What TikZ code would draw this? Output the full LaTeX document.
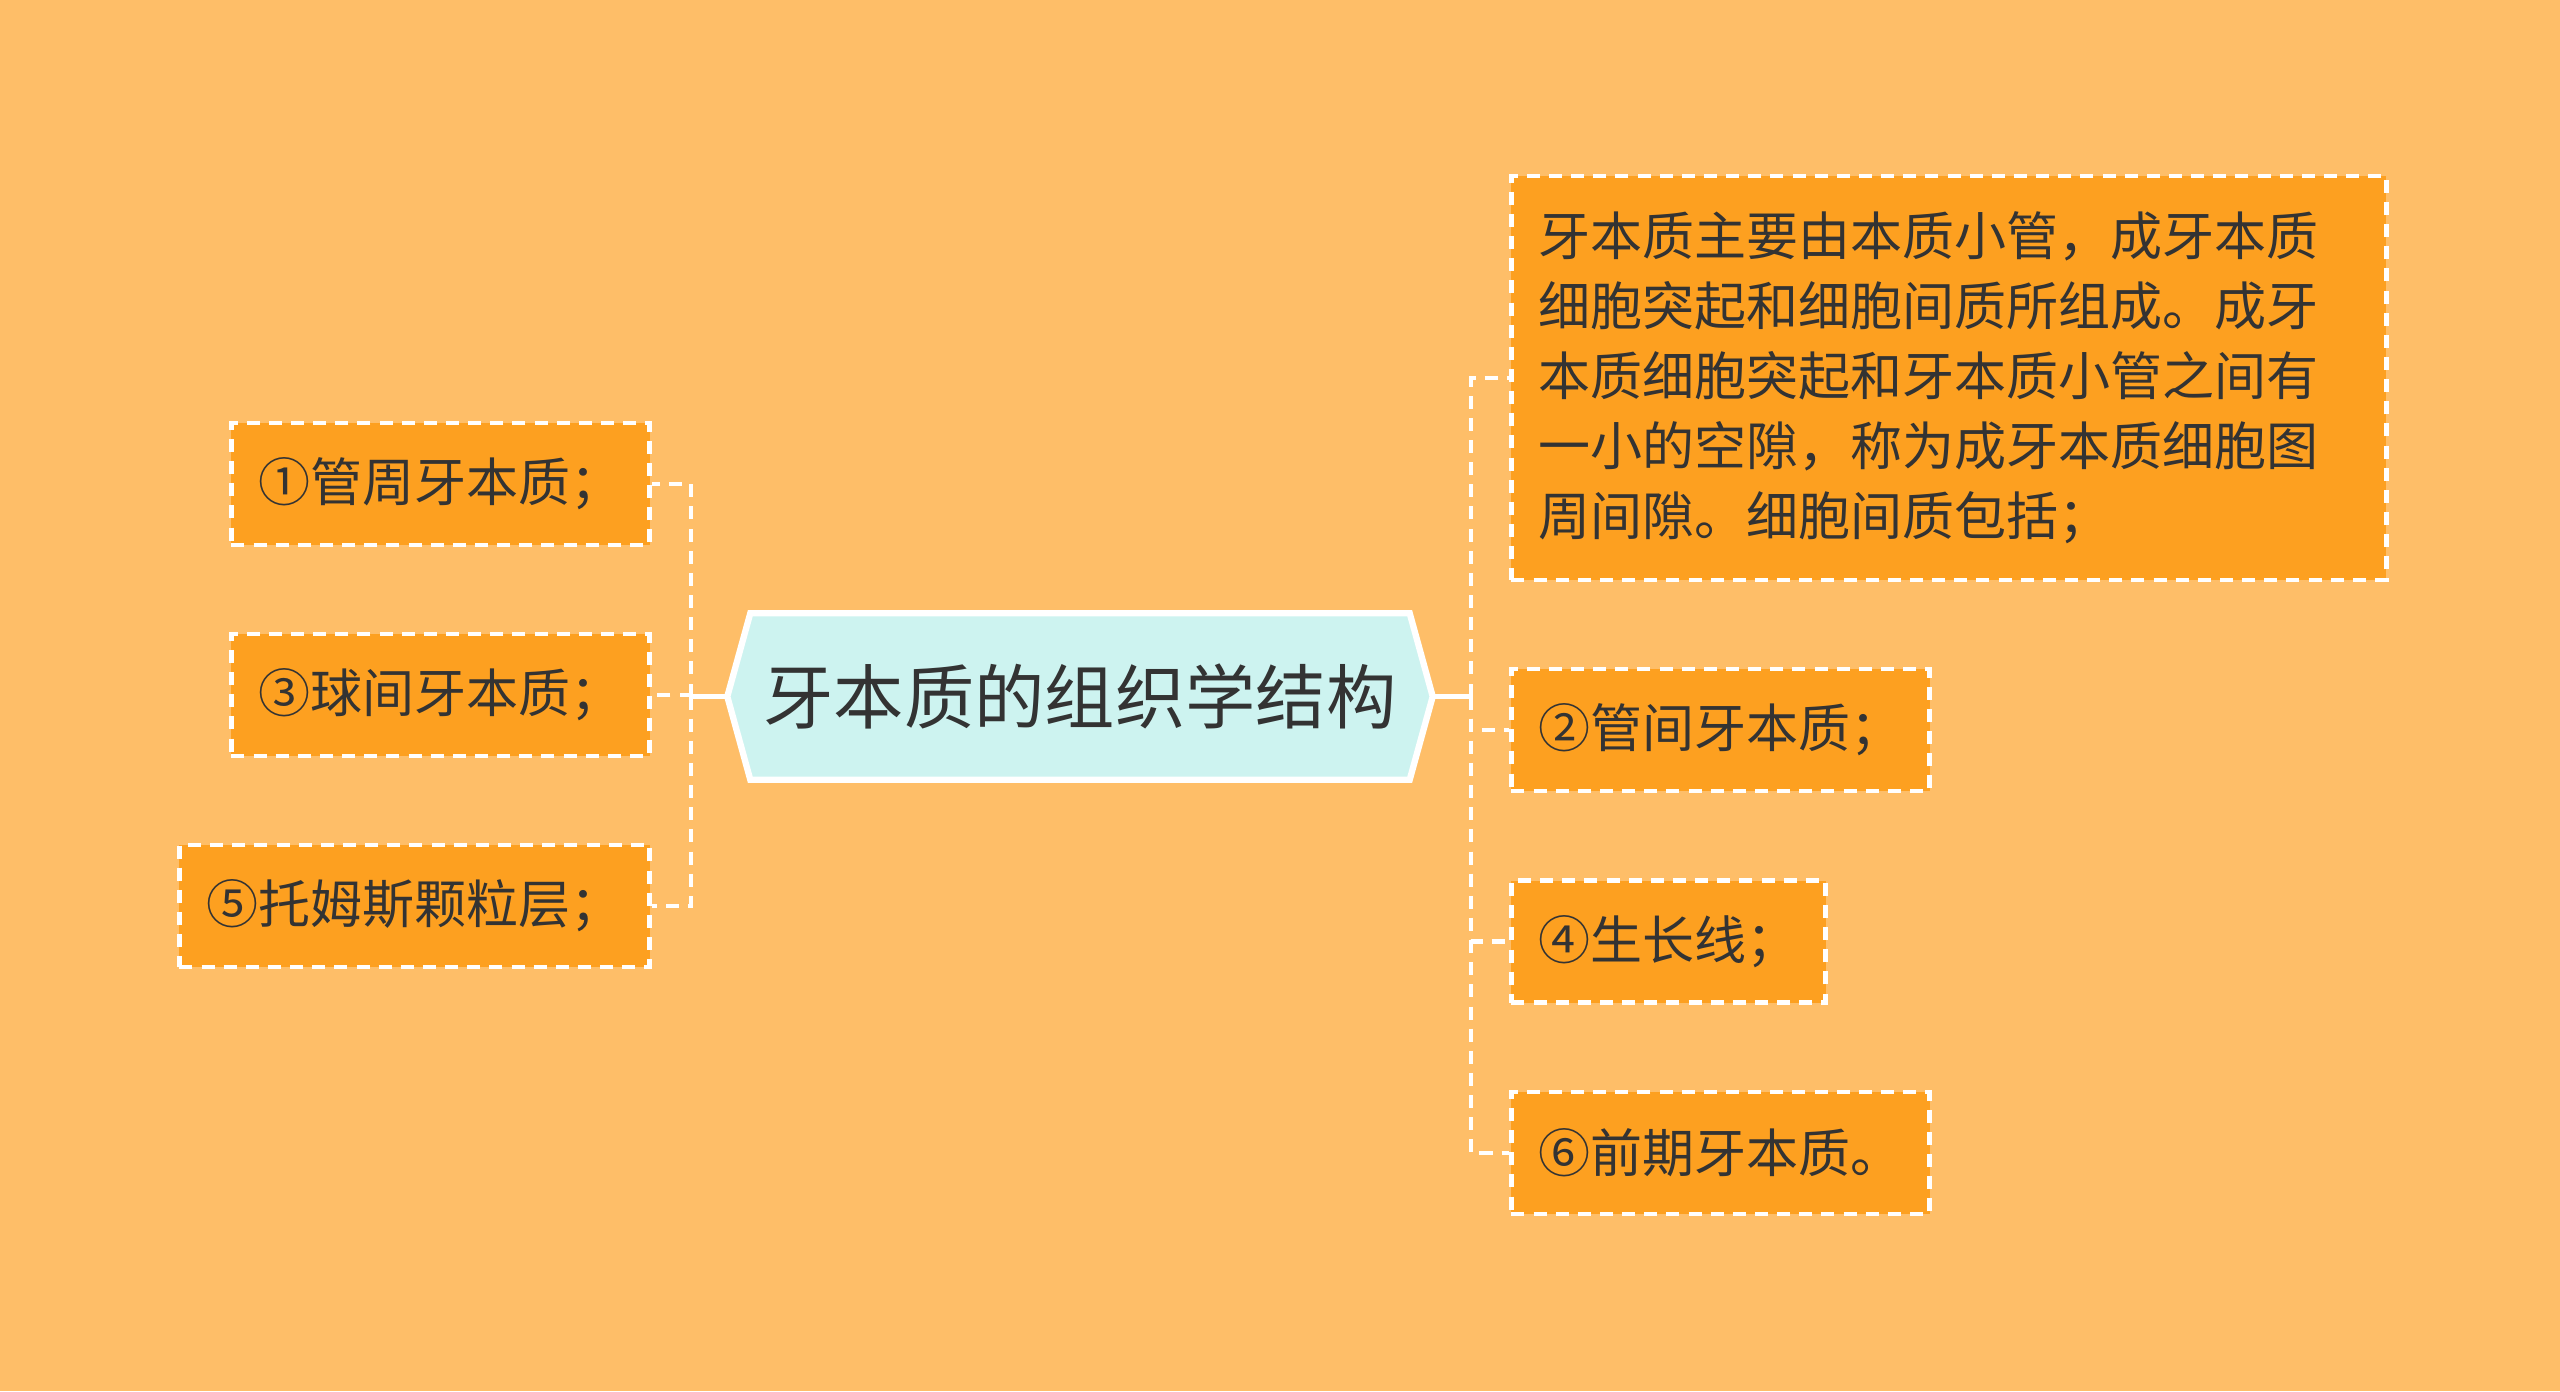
\documentclass[tikz,border=0pt]{standalone}
\usepackage{fontspec}
\setmainfont{Noto Sans CJK SC}
\usetikzlibrary{positioning}
\pgfdeclarelayer{bg}
\pgfsetlayers{bg,main}
\definecolor{paper}{HTML}{FEBE68}
\definecolor{leaffill}{HTML}{FDA020}
\definecolor{rootfill}{HTML}{CDF3F0}
\definecolor{ink}{HTML}{333333}

\begin{document}
\begin{tikzpicture}[
    leaf/.style={fill=leaffill, draw=white, line width=1.4pt,
      dash pattern=on 3.7pt off 2.6pt, text=ink,
      font=\fontsize{14.8}{19.9}\selectfont, minimum height=1.22cm,
      inner xsep=0.27cm, align=left},
    rootnode/.style={minimum width=6.58cm, minimum height=1.65cm,
      inner sep=0pt, text=ink, font=\fontsize{20}{24}\selectfont},
    link/.style={draw=white, line width=1.4pt, dash pattern=on 3.7pt off 2.6pt},
    stem/.style={draw=white, line width=1.4pt}
  ]
  \useasboundingbox (0,0) rectangle (25.6,-13.91);

  % centre
  \node[rootnode] (root) at (10.80,-6.965) {牙本质的组织学结构};
  \coordinate (rootL) at ([xshift=-2.3mm]root.west);
  \coordinate (rootR) at ([xshift=2.3mm]root.east);

  % left side
  \node[leaf, anchor=east] (l1) at (6.52,-4.84) {①管周牙本质；};
  \node[leaf, anchor=east] (l3) at (6.52,-6.95) {③球间牙本质；};
  \node[leaf, anchor=east] (l5) at (6.52,-9.06) {⑤托姆斯颗粒层；};

  % right side
  \node[leaf, anchor=west, text width=8.21cm, minimum height=4.04cm] (r1) at (15.09,-3.78)
    {牙本质主要由本质小管，成牙本质\\细胞突起和细胞间质所组成。成牙\\本质细胞突起和牙本质小管之间有\\一小的空隙，称为成牙本质细胞图\\周间隙。细胞间质包括；};
  \node[leaf, anchor=west] (r2) at (15.09,-7.30) {②管间牙本质；};
  \node[leaf, anchor=west] (r4) at (15.09,-9.415) {④生长线；};
  \node[leaf, anchor=west] (r6) at (15.09,-11.53) {⑥前期牙本质。};

  \begin{pgfonlayer}{bg}
    \fill[paper] (0,0) rectangle (25.6,-13.91);
    \draw[fill=rootfill, draw=white, line width=1.8pt] (root.north west) -- (root.north east)
      -- (rootR) -- (root.south east) -- (root.south west) -- (rootL) -- cycle;
  \end{pgfonlayer}

  % connectors
  \coordinate (lj) at (6.91,-6.965);
  \coordinate (rj) at (14.71,-6.965);
  \draw[stem] (rootL) -- (lj);
  \draw[stem] (rootR) -- (rj);
  \foreach \n in {l1,l3,l5}
    \draw[link] (lj) |- (\n.east);
  \foreach \n in {r1,r2,r4,r6}
    \draw[link] (rj) |- (\n.west);
\end{tikzpicture}
\end{document}
